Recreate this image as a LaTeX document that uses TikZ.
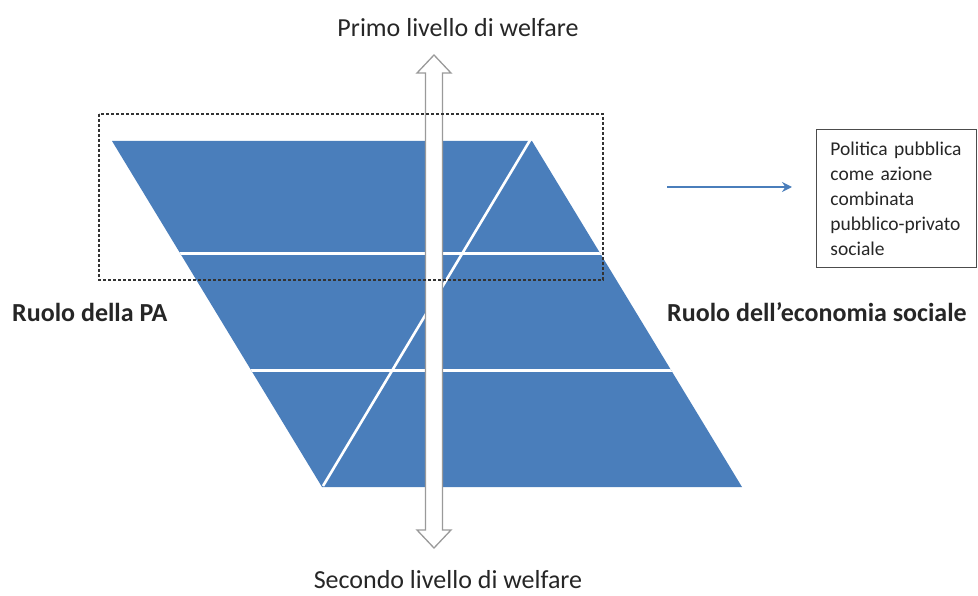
\documentclass[tikz,border=0pt]{standalone}
\usepackage{fontspec}
\setmainfont{Carlito}
\usetikzlibrary{arrows.meta}
\definecolor{tierblue}{HTML}{4A7EBB}
\definecolor{arrowgray}{HTML}{9A9A9A}
\definecolor{textgray}{HTML}{262626}
\tikzset{
  rolelabel/.style={font=\fontsize{26}{31}\selectfont\bfseries, inner sep=0, text=textgray},
  levellabel/.style={font=\fontsize{26}{31}\selectfont, inner sep=0, text=textgray},
  divider/.style={white, line width=3pt},
  notebox/.style={draw=black!70, line width=0.9pt, minimum width=160pt, minimum height=138pt,
    text width=146pt, inner xsep=7pt, align=left, text=textgray,
    font=\fontsize{19.5}{25}\selectfont},
  linkarrow/.style={draw=tierblue, line width=2.4pt, -{Stealth[length=10pt,width=10pt]}},
  focusframe/.style={draw=black!80, dash pattern=on 3pt off 2pt, line width=1.1pt}
}
\begin{document}
\begin{tikzpicture}[x=1pt,y=-1pt]
\useasboundingbox (0,0) rectangle (978,596);
% parallelogram
\coordinate (tl) at (112,141);
\coordinate (tr) at (532,141);
\coordinate (br) at (742,487);
\coordinate (bl) at (322,487);
\fill[tierblue] (tl) -- (tr) -- (br) -- (bl) -- cycle;
\begin{scope}
  \clip (tl) -- (tr) -- (br) -- (bl) -- cycle;
  \draw[divider] (100,254) -- (780,254);
  \draw[divider] (100,370) -- (780,370);
\end{scope}
\coordinate (diagtop) at (532,137);
\coordinate (diagbot) at (323,486);
\draw[white, line width=2.6pt] (diagtop) -- (diagbot);
% double arrow
\filldraw[fill=white, draw=arrowgray, line width=1.3pt]
  (434,55) -- (451,73) -- (442.5,73) -- (442.5,530) -- (451,530) -- (434,548)
  -- (417,530) -- (425.5,530) -- (425.5,73) -- (417,73) -- cycle;
% dashed frame
\draw[focusframe] (99,114) rectangle (603,280);
% labels
\node[levellabel] (primo) at (458,28) {Primo livello di welfare};
\node[levellabel] (secondo) at (448,580) {Secondo livello di welfare};
\node[rolelabel, anchor=west] (pa) at (12,312) {Ruolo della PA};
\node[rolelabel, anchor=west] (eco) at (667,312) {Ruolo dell’economia sociale};
% note box
\node[notebox, anchor=north west] (box) at (816,129)
  {\hspace*{7pt}Politica pubblica\\\hspace*{7pt}come azione\\\hspace*{7pt}combinata\\\hspace*{7pt}pubblico-privato\\\hspace*{7pt}sociale};
\coordinate (arrowstart) at (667,187);
\draw[linkarrow, shorten >=24pt] (arrowstart) -- (arrowstart -| box.west);
\end{tikzpicture}
\end{document}
